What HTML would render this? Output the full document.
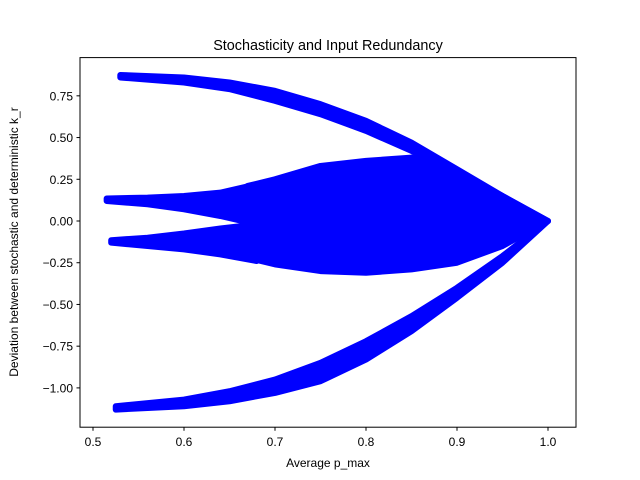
<!DOCTYPE html>
<html><head><meta charset="utf-8"><style>
body{margin:0;background:#fff}
svg{display:block;font-family:"Liberation Sans","DejaVu Sans",sans-serif}
</style></head><body>
<svg id="chart" width="640" height="480">
<rect x="0" y="0" width="640" height="480" fill="#fff"/>
<g id="marks"></g>
<rect x="80" y="57.6" width="496" height="369.6" fill="none" stroke="#000" stroke-width="1"/>
<g id="axes"></g>
<text x="328" y="50" text-anchor="middle" font-size="14.4">Stochasticity and Input Redundancy</text>
<text x="328" y="467" text-anchor="middle" font-size="12">Average p_max</text>
<text x="0" y="0" transform="translate(18,242) rotate(-90)" text-anchor="middle" font-size="12">Deviation between stochastic and deterministic k_r</text>
</svg>
<script>
const xTicks=[0.5,0.6,0.7,0.8,0.9,1.0];
const xTickLabels=["0.5","0.6","0.7","0.8","0.9","1.0"];
const yTicks=[0.75,0.5,0.25,0,-0.25,-0.5,-0.75,-1.0];
const yTickLabels=["0.75","0.50","0.25","0.00","\u22120.25","\u22120.50","\u22120.75","\u22121.00"];
// band envelopes: x values with upper/lower y values
const topX=[0.53,0.6,0.65,0.7,0.75,0.8,0.85,0.9,0.95,1.0];
const topUpper=[0.875,0.86,0.83,0.78,0.70,0.60,0.47,0.31,0.15,0.0];
const topLower=[0.86,0.83,0.79,0.72,0.64,0.54,0.42,0.27,0.11,0.0];
const botX=[0.525,0.6,0.65,0.7,0.75,0.8,0.85,0.9,0.95,1.0];
const botUpper=[-1.11,-1.07,-1.02,-0.95,-0.85,-0.72,-0.57,-0.40,-0.21,0.0];
const botLower=[-1.13,-1.11,-1.08,-1.03,-0.96,-0.83,-0.66,-0.46,-0.25,0.0];
const upProngX=[0.515,0.56,0.6,0.64,0.68];
const upProngUpper=[0.135,0.14,0.15,0.17,0.22];
const upProngLower=[0.12,0.10,0.07,0.03,-0.02];
const loProngX=[0.52,0.56,0.6,0.64,0.68];
const loProngUpper=[-0.115,-0.10,-0.075,-0.045,-0.02];
const loProngLower=[-0.13,-0.15,-0.17,-0.20,-0.24];
const midX=[0.67,0.7,0.75,0.8,0.85,0.9,0.95,1.0];
const midUpper=[0.21,0.25,0.33,0.36,0.38,0.28,0.15,0.0];
const midLower=[-0.22,-0.26,-0.30,-0.31,-0.29,-0.25,-0.15,0.0];
const sx=v=>93+(v-0.5)*910;
const sy=v=>221-v*166.9;
const NS="http://www.w3.org/2000/svg";
const marks=document.getElementById('marks');
const axes=document.getElementById('axes');
function band(xs,up,lo,name,sw){
  const pts=[];
  xs.forEach((x,i)=>pts.push(sx(x)+','+sy(up[i])));
  for(let i=xs.length-1;i>=0;i--)pts.push(sx(xs[i])+','+sy(lo[i]));
  const p=document.createElementNS(NS,'polygon');
  p.setAttribute('points',pts.join(' '));
  p.setAttribute('fill','#0000ff');p.setAttribute('stroke','#0000ff');
  p.setAttribute('stroke-width',sw);p.setAttribute('stroke-linejoin','round');
  
  
  marks.appendChild(p);
}
band(topX,topUpper,topLower,'upper-branch-points',6);
band(botX,botUpper,botLower,'lower-branch-points',6);
band(upProngX,upProngUpper,upProngLower,'upper-prong-points',6);
band(loProngX,loProngUpper,loProngLower,'lower-prong-points',6);
band(midX,midUpper,midLower,'central-cluster-points',6);
xTicks.forEach((v,i)=>{
  const l=document.createElementNS(NS,'line');
  l.setAttribute('x1',sx(v));l.setAttribute('x2',sx(v));l.setAttribute('y1',427.2);l.setAttribute('y2',430.7);l.setAttribute('stroke','#000');
  
  
  axes.appendChild(l);
  const t=document.createElementNS(NS,'text');
  t.setAttribute('x',sx(v));t.setAttribute('y',446);t.setAttribute('text-anchor','middle');t.setAttribute('font-size','12');
  t.textContent=xTickLabels[i];
  
  
  axes.appendChild(t);
});
yTicks.forEach((v,i)=>{
  const l=document.createElementNS(NS,'line');
  l.setAttribute('x1',76.5);l.setAttribute('x2',80);l.setAttribute('y1',sy(v));l.setAttribute('y2',sy(v));l.setAttribute('stroke','#000');
  
  
  axes.appendChild(l);
  const t=document.createElementNS(NS,'text');
  t.setAttribute('x',73);t.setAttribute('y',sy(v)+4.5);t.setAttribute('text-anchor','end');t.setAttribute('font-size','12');
  t.textContent=yTickLabels[i];
  
  
  axes.appendChild(t);
});
</script>
</body></html>
